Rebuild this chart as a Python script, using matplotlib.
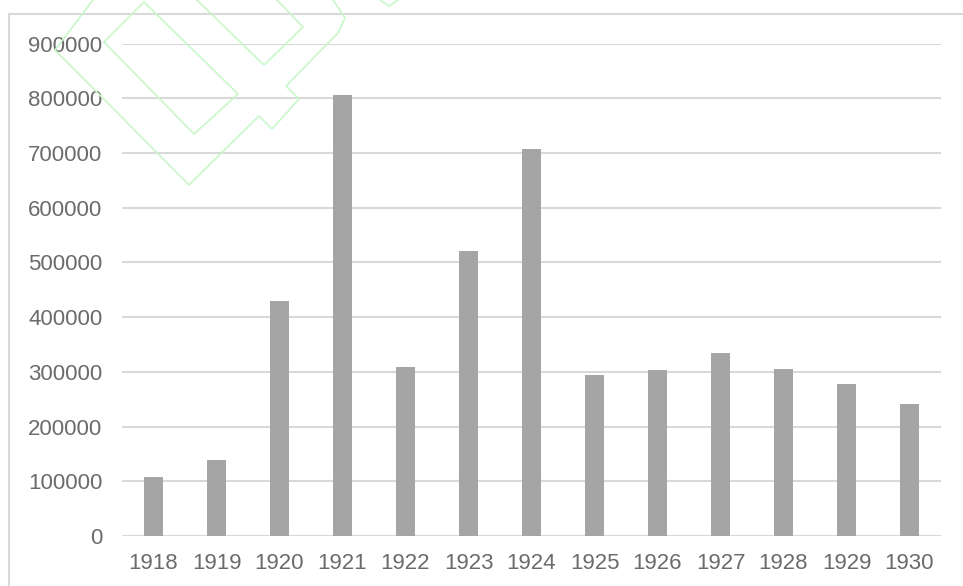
import matplotlib
matplotlib.use("Agg")
import matplotlib.pyplot as plt
from matplotlib.lines import Line2D

years = ["1918", "1919", "1920", "1921", "1922", "1923", "1924",
         "1925", "1926", "1927", "1928", "1929", "1930"]
values = [108000, 139000, 430000, 805000, 308000, 521000, 707000,
          294000, 304000, 334000, 306000, 278000, 241000]
yticks = [0, 100000, 200000, 300000, 400000, 500000, 600000, 700000, 800000, 900000]

W, H = 963, 586
fig = plt.figure(figsize=(W / 100, H / 100), dpi=100)
plt.rcParams['font.family'] = ['Liberation Sans', 'DejaVu Sans']

ax = fig.add_axes([122 / W, 1 - 536 / H, 819 / W, (536 - 43.5) / H])
x = list(range(len(years)))
ax.bar(x, values, width=0.307, color="#a5a5a5", zorder=3)
ax.set_xlim(-0.5, len(years) - 0.5)
ax.set_ylim(0, 900000)
ax.set_yticks(yticks)
ax.set_yticklabels([str(v) for v in yticks])
ax.set_xticks(x)
ax.set_xticklabels(years)
ax.yaxis.grid(True, color="#d9d9d9", linewidth=1.5)
ax.set_axisbelow(True)
for s in ax.spines.values():
    s.set_visible(False)
ax.tick_params(axis="both", length=0, labelsize=16, labelcolor="#6b6b6b")
ax.tick_params(axis="y", pad=14)
ax.tick_params(axis="x", pad=12)

# chart frame (top and left edges visible)
fig.add_artist(Line2D([9 / W, 9 / W], [0, 1 - 14 / H], color="#d9d9d9", lw=1.5,
                      transform=fig.transFigure))
fig.add_artist(Line2D([9 / W, 1], [1 - 14 / H, 1 - 14 / H], color="#d9d9d9", lw=1.5,
                      transform=fig.transFigure))

# faint watermark outline
wm_color = "#c8f7c8"
paths = [
    [(93, 0), (55, 50), (189, 185), (259, 116), (272, 129), (299, 99),
     (286, 86), (338, 33), (345, 18), (333, 0)],
    [(104, 42), (144, 2), (238, 94), (194, 134), (104, 42)],
    [(197, 0), (264, 65), (303, 27), (277, 0)],
    [(380, 0), (389, 6), (398, 0)],
]
for p in paths:
    xs = [pt[0] / W for pt in p]
    ys = [1 - pt[1] / H for pt in p]
    fig.add_artist(Line2D(xs, ys, color=wm_color, lw=1.2, transform=fig.transFigure,
                          zorder=10))

fig.savefig("out.png", dpi=100)
